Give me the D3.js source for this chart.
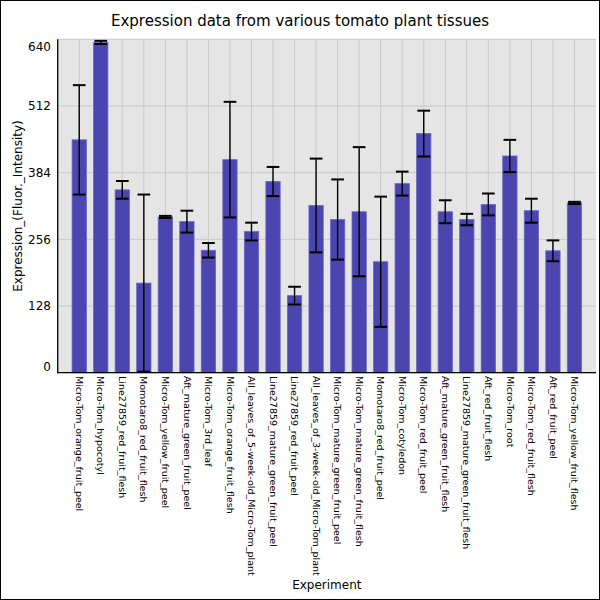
<!DOCTYPE html>
<html>
<head>
<meta charset="utf-8">
<script src="https://cdn.jsdelivr.net/npm/d3@7"></script>
<style>
  html, body { margin: 0; padding: 0; background: #fff; }
  svg { display: block; }
  text { font-family: "DejaVu Sans", sans-serif; }
</style>
</head>
<body>
<svg id="chart" width="600" height="600"></svg>
<script>
const categories = [
  "Micro-Tom_orange_fruit_peel",
  "Micro-Tom_hypocotyl",
  "Line27859_red_fruit_flesh",
  "Momotaro8_red_fruit_flesh",
  "Micro-Tom_yellow_fruit_peel",
  "Aft_mature_green_fruit_peel",
  "Micro-Tom_3rd_leaf",
  "Micro-Tom_orange_fruit_flesh",
  "All_leaves_of_5-week-old_Micro-Tom_plant",
  "Line27859_mature_green_fruit_peel",
  "Line27859_red_fruit_peel",
  "All_leaves_of_3-week-old_Micro-Tom_plant",
  "Micro-Tom_mature_green_fruit_peel",
  "Micro-Tom_mature_green_fruit_flesh",
  "Momotaro8_red_fruit_peel",
  "Micro-Tom_cotyledon",
  "Micro-Tom_red_fruit_peel",
  "Aft_mature_green_fruit_flesh",
  "Line27859_mature_green_fruit_flesh",
  "Aft_red_fruit_flesh",
  "Micro-Tom_root",
  "Micro-Tom_red_fruit_flesh",
  "Aft_red_fruit_peel",
  "Micro-Tom_yellow_fruit_flesh"
];
const values = [447, 634, 351, 172, 299, 290, 235, 409, 271, 367, 148, 321, 294, 309, 213, 363, 459, 309, 294, 323, 416, 311, 234, 326];
const errors = [105, 3, 17, 170, 2, 21, 14, 111, 17, 28, 17, 90, 77, 124, 125, 23, 44, 22, 11, 21, 31, 23, 20, 2];
const yTicks = [0, 128, 256, 384, 512, 640];

(function () {
const W = 600, H = 600;
const pL = 57.7, pR = 596, pT = 39.3, pB = 372.7;

const svg = d3.select("#chart");

// outer border
svg.append("rect").attr("x", 0.5).attr("y", 0.5).attr("width", W - 1).attr("height", H - 1)
  .attr("fill", "#fff").attr("stroke", "#000").attr("stroke-width", 1);

const x = d3.scalePoint().domain(categories).range([pL, pR]).padding(1);
const y = d3.scaleLinear().domain([0, 640]).range([pB, pT]);
const barW = x.step() * 0.665;
const capW = x.step() * 0.59;

// plot background
svg.append("rect").attr("x", pL).attr("y", pT).attr("width", pR - pL).attr("height", pB - pT)
  .attr("fill", "#e5e5e5");

// gridlines
svg.append("g").selectAll("line").data(yTicks).join("line")
  .attr("x1", pL).attr("x2", pR)
  .attr("y1", d => y(d)).attr("y2", d => y(d))
  .attr("stroke", "#c8c8c8").attr("stroke-width", 1);
svg.append("g").selectAll("line").data(categories).join("line")
  .attr("x1", d => x(d)).attr("x2", d => x(d))
  .attr("y1", pT).attr("y2", pB)
  .attr("stroke", "#c8c8c8").attr("stroke-width", 1);

// bars
const data = categories.map((c, i) => ({ c, v: values[i], e: errors[i] }));
svg.append("g").selectAll("rect").data(data).join("rect")
  .attr("x", d => x(d.c) - barW / 2)
  .attr("width", barW)
  .attr("y", d => y(d.v))
  .attr("height", d => y(0) - y(d.v))
  .attr("fill", "#4b45b0")
  .attr("stroke", "#6b67c4")
  .attr("stroke-width", 0.8);

// error bars
const eg = svg.append("g").attr("stroke", "#000");
eg.selectAll("line.v").data(data).join("line").attr("class", "v")
  .attr("x1", d => x(d.c)).attr("x2", d => x(d.c))
  .attr("y1", d => y(Math.max(0, d.v - d.e))).attr("y2", d => y(d.v + d.e))
  .attr("stroke-width", 1.4);
eg.selectAll("line.t").data(data).join("line").attr("class", "t")
  .attr("x1", d => x(d.c) - capW / 2).attr("x2", d => x(d.c) + capW / 2)
  .attr("y1", d => y(d.v + d.e)).attr("y2", d => y(d.v + d.e))
  .attr("stroke-width", 2);
eg.selectAll("line.b").data(data).join("line").attr("class", "b")
  .attr("x1", d => x(d.c) - capW / 2).attr("x2", d => x(d.c) + capW / 2)
  .attr("y1", d => y(Math.max(0, d.v - d.e))).attr("y2", d => y(Math.max(0, d.v - d.e)))
  .attr("stroke-width", 2);

// axes lines
svg.append("line").attr("x1", pL).attr("x2", pL).attr("y1", pT).attr("y2", pB + 0.5)
  .attr("stroke", "#000").attr("stroke-width", 1.3);
svg.append("line").attr("x1", pL).attr("x2", pR).attr("y1", pB).attr("y2", pB)
  .attr("stroke", "#000").attr("stroke-width", 1.3);

// y tick labels (clamped inside the plot vertically)
svg.append("g").selectAll("text").data(yTicks).join("text")
  .attr("x", 51)
  .attr("y", d => Math.min(pB - 6, Math.max(pT + 7.5, y(d))))
  .attr("dy", "0.35em")
  .attr("text-anchor", "end")
  .attr("font-size", 12)
  .attr("fill", "#000")
  .text(d => d);

// x tick labels
svg.append("g").selectAll("text").data(categories).join("text")
  .attr("transform", d => `translate(${x(d)},376) rotate(90)`)
  .attr("dy", "0.35em")
  .attr("text-anchor", "start")
  .attr("font-size", 9.5)
  .attr("fill", "#000")
  .text(d => d);

// titles
svg.append("text").attr("x", 300).attr("y", 26).attr("text-anchor", "middle")
  .attr("font-size", 15).attr("fill", "#000")
  .text("Expression data from various tomato plant tissues");
svg.append("text").attr("transform", `translate(22,${(pT + pB) / 2}) rotate(-90)`)
  .attr("text-anchor", "middle").attr("font-size", 12).attr("fill", "#000")
  .text("Expression_(Fluor._Intensity)");
svg.append("text").attr("x", (pL + pR) / 2).attr("y", 589).attr("text-anchor", "middle")
  .attr("font-size", 12).attr("fill", "#000")
  .text("Experiment");
})();
</script>
</body>
</html>
